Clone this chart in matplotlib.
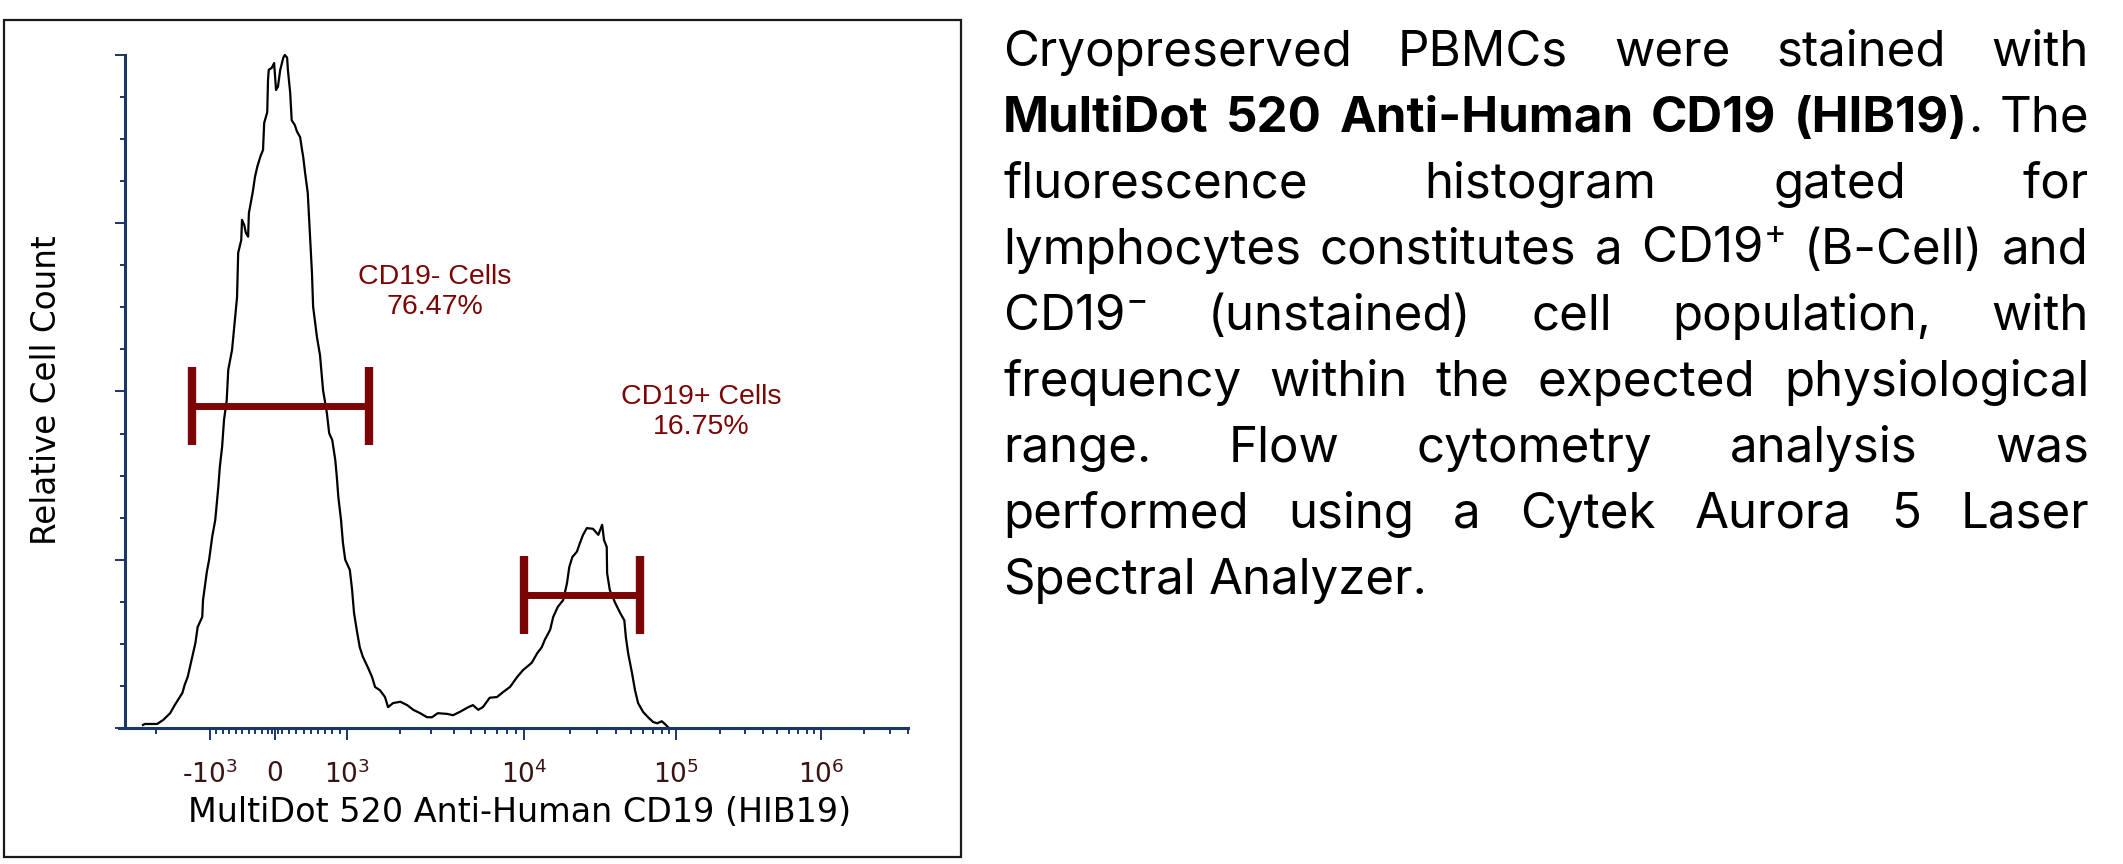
import numpy as np
import matplotlib
matplotlib.use('Agg')
import matplotlib.pyplot as plt
from matplotlib.patches import Rectangle

# histogramo: canal no eixo de exibicao (0-1024) e contagem relativa (% do pico)
hist_ch = [23.5, 26, 42, 50, 59, 65, 75, 78, 82, 88,
           92, 95, 101, 102, 107, 110, 114, 118, 122, 124,
           127, 129.5, 133, 135, 140, 144, 146.5, 148, 152, 153,
           156, 158, 161, 162, 167, 170, 173, 177, 180.5, 182,
           186, 187, 188, 192, 195, 197.5, 200, 203, 207, 209,
           212, 213, 216, 218, 222, 225, 229, 231.5, 233, 235.5,
           239, 242, 244.5, 246, 251, 255, 259, 264, 267, 271,
           275, 277, 279, 282.5, 285, 288, 294, 297, 299.5, 303,
           307, 311, 318, 323, 327, 333.5, 340, 344, 350.5, 360,
           369, 377, 386, 395, 401.5, 409, 421, 429, 438, 449,
           455, 462, 468, 477, 486.5, 494, 503.5, 513, 520.5, 532,
           539, 545, 549, 556, 560, 566, 573, 578, 581, 585,
           591, 595, 599, 604, 612, 619, 624, 626.5, 630, 630.5,
           634, 641, 647.5, 653, 655, 658, 663, 667, 671, 677.5,
           684, 690.6, 696, 702, 706, 710]
hist_pct = [0.45, 0.6, 0.6, 1.2, 2.2, 3.4, 5.2, 6.4, 7.6, 10.6,
            12.6, 15.0, 16.5, 19.0, 23.2, 25.0, 28.4, 30.9, 35.8, 38.8,
            41.8, 45.8, 48.7, 53.2, 56.2, 61.1, 64.0, 70.6, 72.5, 75.5,
            74.7, 73.6, 73.0, 76.5, 79.6, 81.9, 83.4, 84.9, 85.9, 89.9,
            91.5, 96.3, 97.8, 98.1, 98.8, 94.8, 95.3, 97.8, 99.6, 100,
            99.6, 97.8, 94.4, 90.3, 89.6, 88.6, 87.8, 85.9, 84.9, 82.5,
            79.5, 73.0, 67.6, 62.6, 58.1, 55.4, 50.2, 46.8, 43.8, 42.8,
            39.8, 37.3, 34.3, 30.9, 27.5, 25.0, 23.5, 20.5, 17.1, 14.6,
            12.0, 10.6, 8.9, 7.6, 6.1, 5.6, 4.6, 3.1, 3.7, 3.9,
            3.4, 2.7, 2.2, 1.6, 1.6, 2.2, 2.1, 1.9, 2.4, 3.1,
            3.4, 2.7, 3.1, 4.5, 4.6, 5.3, 6.1, 7.6, 8.6, 9.7,
            11.1, 12.0, 13.1, 14.6, 16.5, 18.0, 19.0, 21.5, 23.9, 25.4,
            26.2, 27.5, 28.7, 29.7, 29.6, 28.7, 30.2, 27.9, 26.9, 23.0,
            20.5, 18.6, 17.1, 16.0, 13.5, 11.1, 8.2, 5.6, 3.7, 2.4,
            1.6, 0.9, 0.7, 1.0, 0.6, 0.15]

# gates
gate_names = ['CD19- Cells', 'CD19+ Cells']
gate_pct = ['76.47%', '16.75%']
gate_lo = [87.6, 522]
gate_hi = [319, 673.6]
gate_y = [47.8, 19.8]
label_ch = [405, 753]
label_y = [64.8, 47.0]

# escala biexponencial: posicao das decadas no eixo
decade_vals = [-1000, 0, 1000, 1e4, 1e5, 1e6]
decade_ch = [111, 196, 290, 522, 721, 910]
decade_labels = [r'-$\mathregular{10^{3}}$', '0', r'$\mathregular{10^{3}}$',
                 r'$\mathregular{10^{4}}$', r'$\mathregular{10^{5}}$', r'$\mathregular{10^{6}}$']

paragrafo = [
    "Cryopreserved PBMCs were stained with",
    "**MultiDot 520 Anti-Human CD19 (HIB19)**. The",
    "fluorescence histogram gated for",
    r"lymphocytes constitutes a $\mathregular{CD19^{+}}$ (B-Cell) and",
    r"$\mathregular{CD19^{-}}$ (unstained) cell population, with",
    "frequency within the expected physiological",
    "range. Flow cytometry analysis was",
    "performed using a Cytek Aurora 5 Laser",
    "Spectral Analyzer.",
]


def canal(v):
    # converte valor de fluorescencia para posicao no eixo
    if -1000 <= v <= 1000:
        return np.interp(v, decade_vals[:3], decade_ch[:3])
    if v > 1000:
        lv = np.log10(v)
        return np.interp(lv, [3, 4, 5, 6, 7], decade_ch[2:] + [decade_ch[-1] + 189])
    return decade_ch[0] - (np.log10(-v) - 3) * 232


W, H = 2123, 864
fig = plt.figure(figsize=(W / 100, H / 100), dpi=100)
renderer = fig.canvas.get_renderer()

azul = '#1b3668'
vermelho = '#7b0505'

ax = fig.add_axes([118.9 / W, (H - 728) / H, (908 - 118.9) / W, (728 - 55) / H])
ax.set_xlim(-8, 1024)
ax.set_ylim(0, 100)
ax.spines['left'].set_position(('data', 0))
ax.spines[['top', 'right']].set_visible(False)
for s in ['left', 'bottom']:
    ax.spines[s].set_color(azul)
    ax.spines[s].set_linewidth(2.2)

# ticks
minor_vals = [-2000, -50, 50] + list(range(-900, 0, 100)) + list(range(100, 1000, 100))
for d in [1e3, 1e4, 1e5, 1e6]:
    for k in range(2, 10):
        minor_vals.append(k * d)
minor_x = [canal(v) for v in minor_vals if canal(v) <= 1024]
ax.set_xticks(decade_ch, decade_labels)
ax.set_xticks(minor_x, minor=True)
ax.set_yticks([0, 25, 50, 75, 100], [''] * 5)
ax.set_yticks(np.arange(0, 100, 6.25), minor=True)
ax.tick_params(axis='x', which='major', length=8.6, width=1.4, color=azul, pad=15,
               labelsize=19, labelcolor='#3a1414')
ax.tick_params(axis='x', which='minor', length=4.3, width=1.4, color=azul)
ax.tick_params(axis='y', which='major', length=7, width=1.4, color=azul)
ax.tick_params(axis='y', which='minor', length=3.6, width=1.4, color=azul)
for lb in ax.get_xticklabels():
    lb.set_family('DejaVu Sans')

ax.plot(hist_ch, hist_pct, color='black', lw=1.6, clip_on=False)

for i in range(2):
    ax.plot([gate_lo[i], gate_hi[i]], [gate_y[i], gate_y[i]], color=vermelho, lw=5,
            solid_capstyle='butt')
    for xg in (gate_lo[i], gate_hi[i]):
        ax.plot([xg, xg], [gate_y[i] - 5.8, gate_y[i] + 5.8], color=vermelho, lw=6,
                solid_capstyle='butt')
    ax.text(label_ch[i], label_y[i], gate_names[i] + '\n' + gate_pct[i], ha='center',
            va='center', color=vermelho, fontsize=20.5, family='Liberation Sans',
            linespacing=1.2)

ax.set_xlabel('MultiDot 520 Anti-Human CD19 (HIB19)', fontsize=24,
              family='DejaVu Sans', va='center')
ax.xaxis.set_label_coords((519.5 - 118.9) / 789.1, (728 - 812) / 673)
ax.set_ylabel('Relative Cell Count', fontsize=23.5, family='DejaVu Sans', va='center')
ax.yaxis.set_label_coords((47 - 118.9) / 789.1, (728 - 390) / 673)

# moldura do grafico
fig.add_artist(Rectangle((4 / W, (H - 857) / H), 957 / W, 837 / H, transform=fig.transFigure,
                         fill=False, ec='#1a1a1a', lw=1.6))

# texto justificado a direita
fonte = 'Inter'
fs = 35.5
x0, x1 = 1003, 2089
base0, passo = 66, 66
negrito = False
for i, linha in enumerate(paragrafo):
    palavras = []
    for w in linha.split(' '):
        pedacos = []
        for j, p in enumerate(w.split('**')):
            if j > 0:
                negrito = not negrito
            if p:
                pedacos.append((p, negrito))
        palavras.append(pedacos)
    y = 1 - (base0 + i * passo) / H
    arts, larg = [], []
    for pedacos in palavras:
        lst, tot = [], 0
        for s, b in pedacos:
            t = fig.text(0, y, s, fontsize=fs, family=fonte, va='baseline',
                         fontweight='bold' if b else 'normal')
            wd = t.get_window_extent(renderer).width
            lst.append((t, wd))
            tot += wd
        arts.append(lst)
        larg.append(tot)
    if i == len(paragrafo) - 1:
        gap = 0.27 * fs * 100 / 72
    else:
        gap = (x1 - x0 - sum(larg)) / (len(palavras) - 1)
    x = x0
    for lst, tot in zip(arts, larg):
        xx = x
        for t, wd in lst:
            t.set_x(xx / W)
            xx += wd
        x += tot + gap

fig.savefig('out.png', dpi=100)
